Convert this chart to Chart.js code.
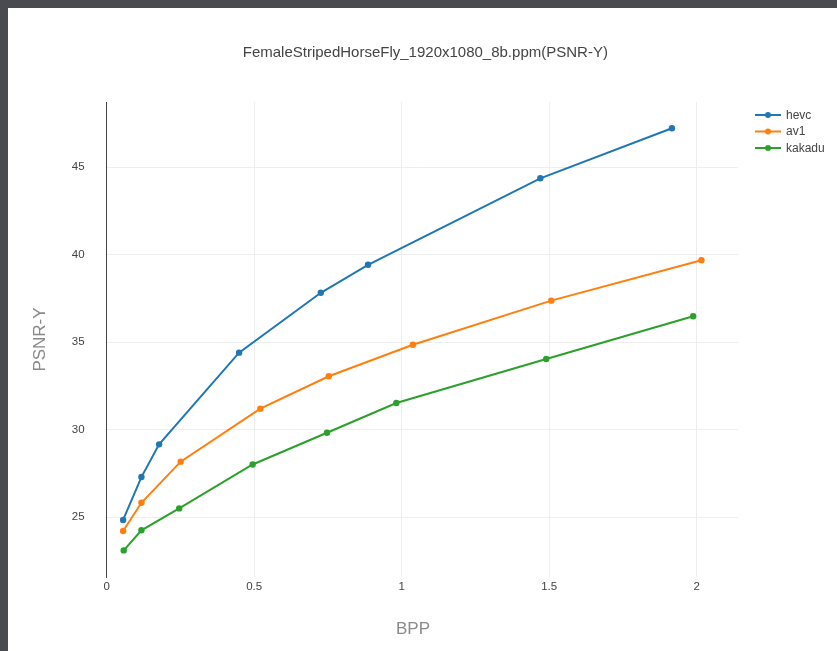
<!DOCTYPE html>
<html>
<head>
<meta charset="utf-8">
<script src="https://cdn.jsdelivr.net/npm/chart.js@4/dist/chart.umd.min.js"></script>
<style>
  html, body { margin: 0; padding: 0; background: #4a4b50; width: 837px; height: 651px; overflow: hidden; }
  #frame { position: absolute; left: 8px; top: 8px; width: 829px; height: 643px; background: #ffffff; }
  canvas { display: block; }
</style>
</head>
<body>
<div id="frame"><canvas id="c" width="829" height="643"></canvas></div>
<script>
const chartTitle = 'FemaleStripedHorseFly_1920x1080_8b.ppm(PSNR-Y)';
const xTitle = 'BPP';
const yTitle = 'PSNR-Y';
const seriesNames = ['hevc', 'av1', 'kakadu'];
const seriesColors = ['#1f77b4', '#ff7f0e', '#2ca02c'];

const hevcBpp  = [0.056, 0.118, 0.178, 0.449, 0.726, 0.886, 1.470, 1.916];
const hevcPsnr = [24.85, 27.30, 29.17, 34.41, 37.83, 39.43, 44.37, 47.23];
const av1Bpp   = [0.056, 0.118, 0.251, 0.521, 0.753, 1.038, 1.507, 2.016];
const av1Psnr  = [24.22, 25.83, 28.18, 31.21, 33.06, 34.86, 37.38, 39.69];
const kakaduBpp  = [0.058, 0.118, 0.246, 0.495, 0.747, 0.982, 1.490, 1.988];
const kakaduPsnr = [23.11, 24.26, 25.51, 28.02, 29.83, 31.53, 34.05, 36.49];

const xTicks = [0, 0.5, 1, 1.5, 2];
const xTickLabels = ['0', '0.5', '1', '1.5', '2'];
const yTicks = [25, 30, 35, 40, 45];

const FONT = "'Liberation Sans', Arial, sans-serif";

function pts(xs, ys) { return xs.map((x, i) => ({ x: x, y: ys[i] })); }
const allSeries = [pts(hevcBpp, hevcPsnr), pts(av1Bpp, av1Psnr), pts(kakaduBpp, kakaduPsnr)];

const datasets = allSeries.map((d, i) => ({
  label: seriesNames[i],
  data: d,
  borderColor: seriesColors[i],
  backgroundColor: seriesColors[i],
  borderWidth: 2,
  pointRadius: 3.2,
  pointBorderWidth: 0,
  showLine: true,
  tension: 0
}));

const decor = {
  id: 'decor',
  afterDraw(chart) {
    const ctx = chart.ctx;
    const a = chart.chartArea;
    ctx.save();
    // title
    ctx.fillStyle = '#444';
    ctx.font = '15px ' + FONT;
    ctx.textAlign = 'center';
    ctx.textBaseline = 'middle';
    ctx.fillText(chartTitle, (a.left + a.right) / 2 + 3, 45);
    // x title
    ctx.fillStyle = '#8a8a8a';
    ctx.font = '17px ' + FONT;
    ctx.fillText(xTitle, 405, 621);
    // y title
    ctx.save();
    ctx.translate(32, (a.top + a.bottom) / 2);
    ctx.rotate(-Math.PI / 2);
    ctx.fillText(yTitle, 0, 0);
    ctx.restore();
    // legend
    ctx.font = '12px ' + FONT;
    ctx.textAlign = 'left';
    chart.data.datasets.forEach((ds, i) => {
      const y = 107 + i * 16.5;
      const x0 = 747;
      ctx.strokeStyle = ds.borderColor;
      ctx.lineWidth = 2;
      ctx.beginPath();
      ctx.moveTo(x0, y);
      ctx.lineTo(x0 + 26, y);
      ctx.stroke();
      ctx.fillStyle = ds.borderColor;
      ctx.beginPath();
      ctx.arc(x0 + 13, y, 3, 0, Math.PI * 2);
      ctx.fill();
      ctx.fillStyle = '#444';
      ctx.fillText(ds.label, x0 + 31, y + 0.5);
    });
    ctx.restore();
  }
};

new Chart(document.getElementById('c'), {
  type: 'scatter',
  data: { datasets: datasets },
  options: {
    responsive: false,
    animation: false,
    layout: { padding: { top: 94, right: 99, bottom: 0, left: 0 } },
    plugins: { legend: { display: false }, title: { display: false }, tooltip: { enabled: false } },
    scales: {
      x: {
        type: 'linear',
        min: 0,
        max: 2.14,
        afterFit(s) { s.height = 74; },
        afterBuildTicks(s) { s.ticks = xTicks.map(v => ({ value: v })); },
        border: { display: false },
        grid: {
          color: ctx => (ctx.tick && ctx.tick.value === 0) ? 'rgba(0,0,0,0)' : '#eeeeee',
          lineWidth: 1,
          drawTicks: false
        },
        ticks: {
          color: '#444', font: { family: FONT, size: 11.5 }, padding: 3,
          callback: (v) => { const i = xTicks.indexOf(v); return i >= 0 ? xTickLabels[i] : ''; }
        }
      },
      y: {
        type: 'linear',
        min: 21.59,
        max: 48.73,
        afterFit(s) { s.width = 98.6; },
        afterBuildTicks(s) { s.ticks = yTicks.map(v => ({ value: v })); },
        border: { display: true, color: '#444', width: 1 },
        grid: { color: '#eeeeee', lineWidth: 1, drawTicks: false },
        ticks: { color: '#444', font: { family: FONT, size: 11.5 }, padding: 22 }
      }
    }
  },
  plugins: [decor]
});
</script>
</body>
</html>
